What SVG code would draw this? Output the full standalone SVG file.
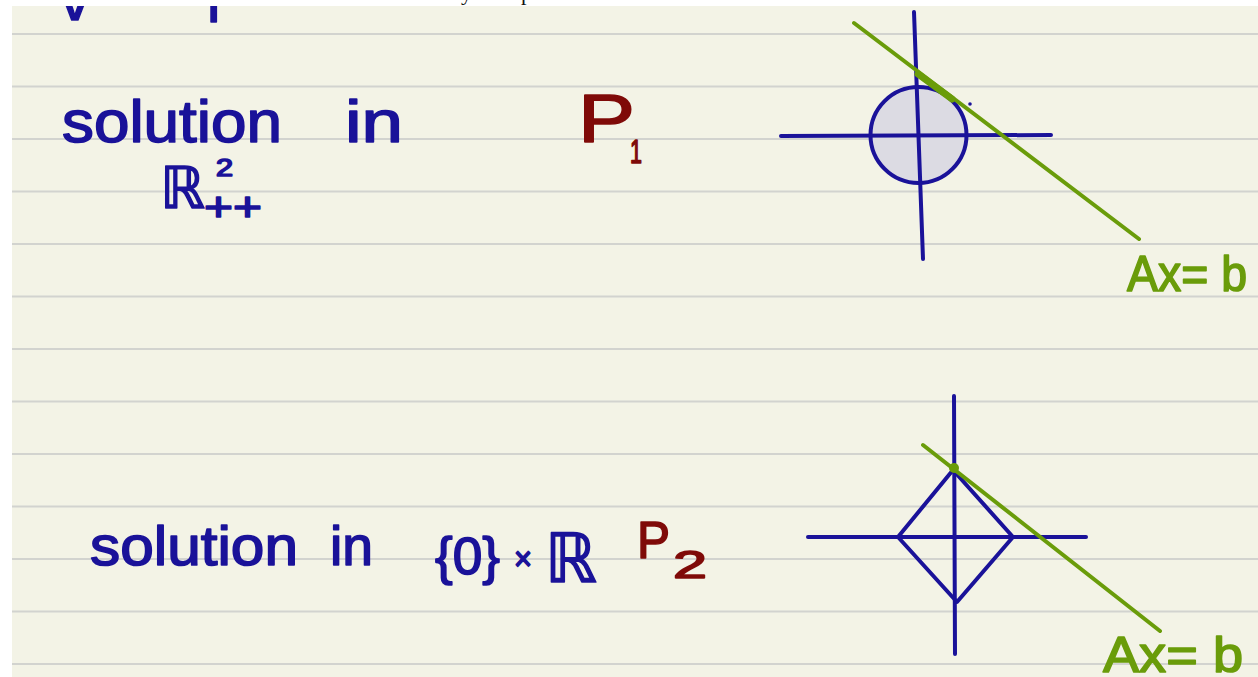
<svg xmlns="http://www.w3.org/2000/svg" width="1258" height="677" viewBox="0 0 1258 677">
<style>
.rule{stroke:#d2d3cf;stroke-width:2}
.ink{fill:#1a1299;stroke:#1a1299;stroke-width:1.6;stroke-linejoin:round;font-family:"Liberation Sans","DejaVu Sans",sans-serif}
.red{fill:#7f0a08;stroke:#7f0a08;stroke-width:1.6;stroke-linejoin:round;font-family:"Liberation Sans","DejaVu Sans",sans-serif}
.grn{fill:#6a9c0a;stroke:#6a9c0a;stroke-width:1.6;stroke-linejoin:round;font-family:"Liberation Sans","DejaVu Sans",sans-serif}
.ax{stroke:#1a1299;stroke-width:4;stroke-linecap:round;fill:none}
.gl{stroke:#6a9c0a;stroke-width:4;stroke-linecap:round;fill:none}
.serif{fill:#111;font-family:"Liberation Serif",serif;font-size:22px}
</style>
<rect x="0" y="0" width="1258" height="677" fill="#ffffff"/>
<rect id="page" x="12" y="6" width="1246" height="671" fill="#f3f3e6"/>
<g id="rules">
<line class="rule" x1="12" y1="34" x2="1258" y2="34"/>
<line class="rule" x1="12" y1="86.5" x2="1258" y2="86.5"/>
<line class="rule" x1="12" y1="139" x2="1258" y2="139"/>
<line class="rule" x1="12" y1="191.5" x2="1258" y2="191.5"/>
<line class="rule" x1="12" y1="244" x2="1258" y2="244"/>
<line class="rule" x1="12" y1="296.5" x2="1258" y2="296.5"/>
<line class="rule" x1="12" y1="349" x2="1258" y2="349"/>
<line class="rule" x1="12" y1="401.5" x2="1258" y2="401.5"/>
<line class="rule" x1="12" y1="454" x2="1258" y2="454"/>
<line class="rule" x1="12" y1="506.5" x2="1258" y2="506.5"/>
<line class="rule" x1="12" y1="559" x2="1258" y2="559"/>
<line class="rule" x1="12" y1="611.5" x2="1258" y2="611.5"/>
<line class="rule" x1="12" y1="664" x2="1258" y2="664"/>
</g>
<g id="top-fragments">
<text class="ink" x="60" y="20" font-size="60">v</text>
<text class="ink" x="207" y="22" font-size="60">l</text>
</g>
<rect x="0" y="0" width="1258" height="6" fill="#ffffff"/>
<text class="serif" x="461" y="0">y</text>
<text class="serif" x="521" y="0">p</text>

<g id="label-p1">
<text class="ink" x="62" y="142" font-size="60" textLength="220" lengthAdjust="spacingAndGlyphs">solution</text>
<text class="ink" x="345" y="142" font-size="60" textLength="58" lengthAdjust="spacingAndGlyphs">in</text>
<text class="ink" x="160" y="208" font-size="58" textLength="45" lengthAdjust="spacingAndGlyphs">ℝ</text>
<text class="ink" x="216" y="176" font-size="23" textLength="17" lengthAdjust="spacingAndGlyphs">2</text>
<text class="ink" x="204" y="221" font-size="40" textLength="58" lengthAdjust="spacingAndGlyphs">++</text>
<text class="red" x="578" y="142" font-size="68" textLength="57" lengthAdjust="spacingAndGlyphs">P</text>
<text class="red" x="630" y="163" font-size="34" textLength="12" lengthAdjust="spacingAndGlyphs">1</text>
</g>

<g id="label-p2">
<text class="ink" x="90" y="565" font-size="56" textLength="208" lengthAdjust="spacingAndGlyphs">solution</text>
<text class="ink" x="330" y="565" font-size="56" textLength="43" lengthAdjust="spacingAndGlyphs">in</text>
<text class="ink" x="435" y="574" font-size="52" textLength="65" lengthAdjust="spacingAndGlyphs">{0}</text>
<text class="ink" x="514" y="570" font-size="34" textLength="18" lengthAdjust="spacingAndGlyphs">×</text>
<text class="ink" x="545" y="582" font-size="68" textLength="52" lengthAdjust="spacingAndGlyphs">ℝ</text>
<text class="red" x="637" y="558" font-size="52" textLength="33" lengthAdjust="spacingAndGlyphs">P</text>
<text class="red" x="673" y="578" font-size="38" textLength="34" lengthAdjust="spacingAndGlyphs">2</text>
</g>

<g id="diagram-p1">
<circle cx="918.5" cy="135" r="48" fill="#dcdbe3" stroke="#1a1299" stroke-width="4"/>
<line class="ax" x1="914" y1="12" x2="923" y2="259"/>
<line class="ax" x1="781" y1="136" x2="1051" y2="135"/>
<line class="gl" x1="854" y1="23" x2="1139" y2="239"/>
<line stroke="#6a9c0a" stroke-width="7" stroke-linecap="round" x1="918" y1="74" x2="952" y2="99"/>
<circle cx="970" cy="104" r="1.8" fill="#1a1299"/>
<text class="grn" x="1127" y="291" font-size="50" textLength="120" lengthAdjust="spacingAndGlyphs">Ax= b</text>
</g>

<g id="diagram-p2">
<line class="ax" x1="954" y1="396" x2="955" y2="654"/>
<line class="ax" x1="808" y1="537" x2="1086" y2="537"/>
<polygon points="953,470 1013,537 957,602 898,537" fill="none" stroke="#1a1299" stroke-width="4" stroke-linejoin="round"/>
<line class="gl" x1="923" y1="445" x2="1160" y2="631"/>
<circle cx="954" cy="468" r="5" fill="#6a9c0a"/>
<text class="grn" x="1103" y="672" font-size="50" textLength="140" lengthAdjust="spacingAndGlyphs">Ax= b</text>
</g>
</svg>
